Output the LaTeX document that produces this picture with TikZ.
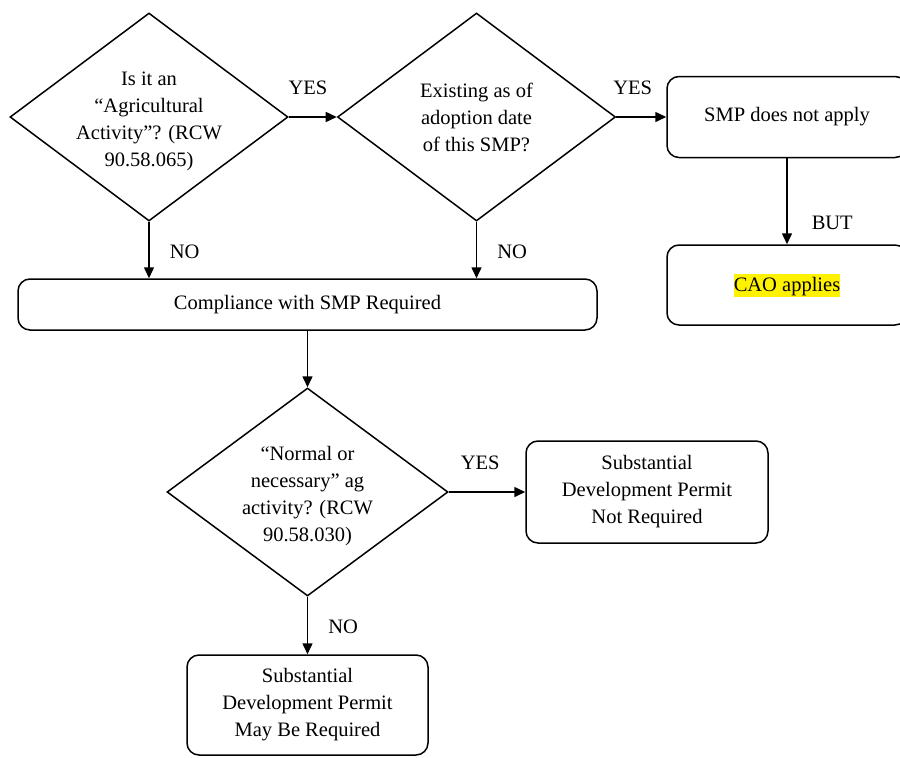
\documentclass[tikz,border=0pt]{standalone}
\usepackage{fontspec}
\setmainfont{Liberation Serif}
\usetikzlibrary{shapes.geometric,arrows.meta}
\tikzset{dec/.style={diamond,draw,line width=1.5pt,minimum width=278pt,minimum height=208pt,inner sep=0pt}}
\tikzset{rbox/.style={rectangle,draw,rounded corners=12pt,line width=1.5pt,align=center,inner sep=0pt}}
\tikzset{ar/.style={-{Triangle[length=11pt,width=10pt]},line width=1.5pt}}
\tikzset{lbl/.style={inner sep=0pt}}
\tikzset{qtext/.style={align=center,yshift=-4pt}}

\begin{document}
\begin{tikzpicture}[x=1pt,y=-1pt,font=\fontsize{20.5}{27}\selectfont]
\path[fill=white,use as bounding box] (0,0) rectangle (900,758);

\node[dec,label={[qtext]center:{Is it an\\``Agricultural\\Activity''? (RCW\\90.58.065)}}](q1) at (149,117) {};
\node[dec,label={[align=center]center:{Existing as of\\adoption date\\of this SMP?}}](q2) at (476.5,117) {};
\node[rbox,minimum width=240pt,minimum height=81pt](smp) at (787,117) {SMP does not apply};
\node[rbox,minimum width=240pt,minimum height=80pt](cao) at (787,285) {\setlength\fboxsep{0pt}\colorbox{yellow}{\rule[-5pt]{0pt}{23pt}CAO applies}};
\node[rbox,minimum width=579pt,minimum height=51pt](comp) at (307.5,304.5) {Compliance with SMP Required};
\node[dec,minimum width=281pt,label={[qtext]center:{``Normal or\\necessary'' ag\\activity? (RCW\\90.58.030)}}](q3) at (307.5,492) {};
\node[rbox,minimum width=242pt,minimum height=102pt](notreq) at (647,492) {Substantial\\Development Permit\\Not Required};
\node[rbox,minimum width=241pt,minimum height=100pt](mayreq) at (307.5,705) {Substantial\\Development Permit\\May Be Required};

\draw[ar] (q1) -- (q2) node[lbl,pos=0.4,above=22pt] {YES};
\draw[ar] (q2) -- (smp) node[lbl,pos=0.33,above=22pt] {YES};
\draw[ar] (smp) -- (cao) node[lbl,pos=0.75,anchor=west,xshift=24pt] {BUT};
\draw[ar] (q1.south) -- (q1.south |- comp.north) node[lbl,pos=0.53,anchor=west,xshift=20pt] {NO};
\draw[ar] (q2.south) -- (q2.south |- comp.north) node[lbl,pos=0.53,anchor=west,xshift=20pt] {NO};
\draw[ar] (comp.south) -- (q3.north);
\draw[ar] (q3) -- (notreq) node[lbl,pos=0.41,above=22pt] {YES};
\draw[ar] (q3) -- (mayreq) node[lbl,pos=0.53,anchor=west,xshift=20pt] {NO};

\end{tikzpicture}
\end{document}
